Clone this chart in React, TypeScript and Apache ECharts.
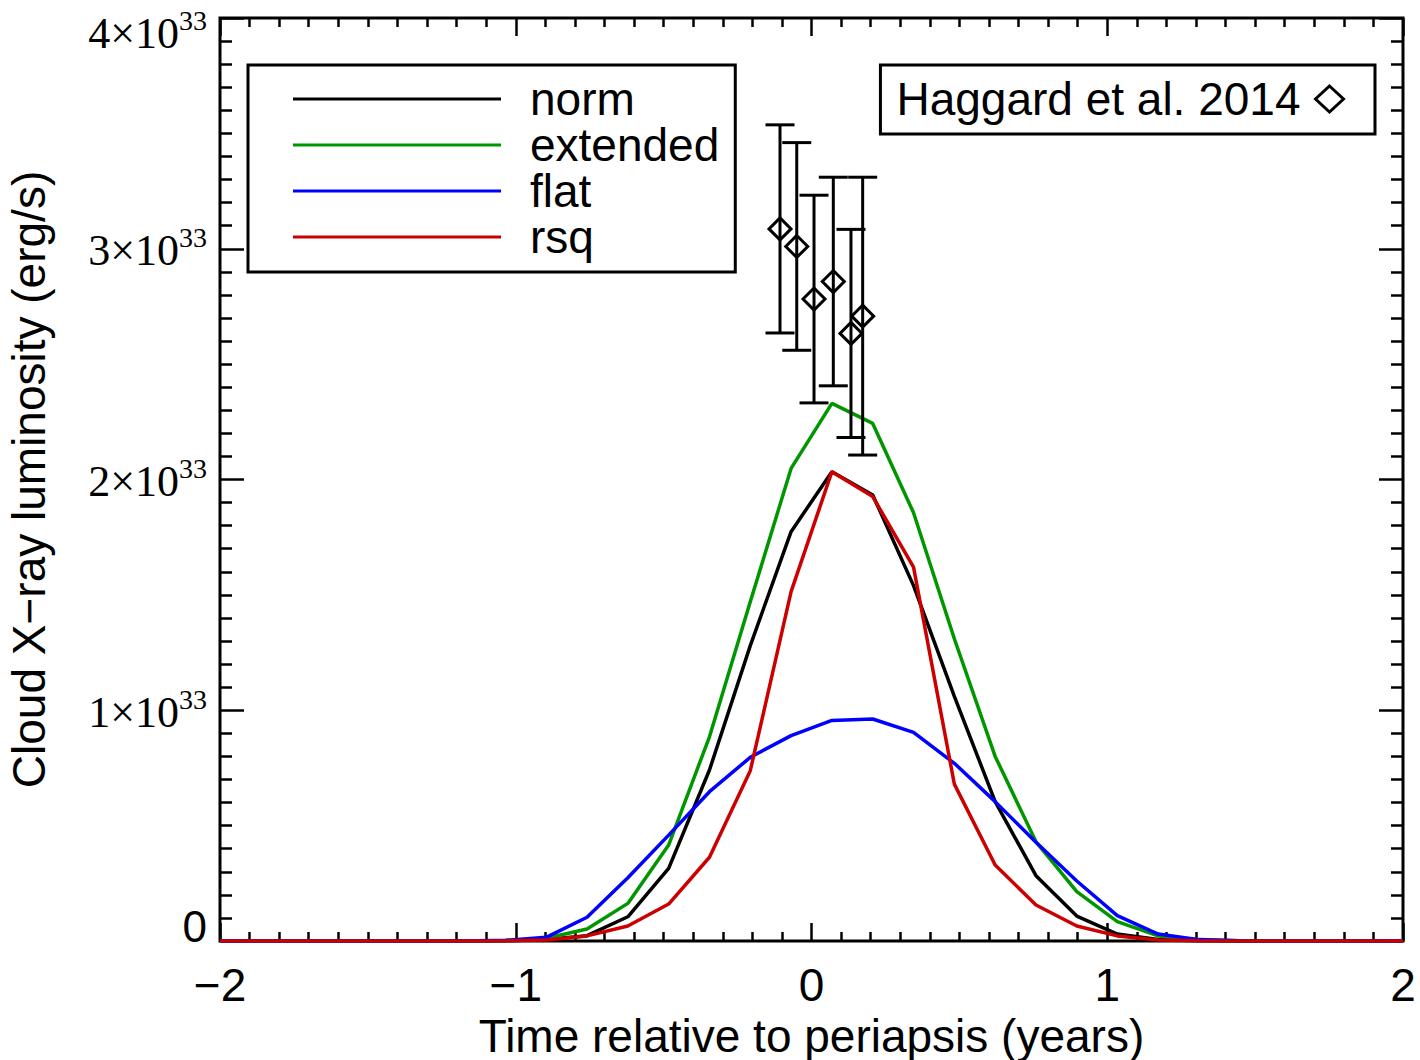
import React, { useEffect, useRef } from "react";
import * as echarts from "echarts";

// Time grid (years relative to periapsis)
const times = [
  -2.0, -1.862, -1.724, -1.586, -1.448, -1.31, -1.172, -1.034, -0.897, -0.759,
  -0.621, -0.483, -0.345, -0.207, -0.069, 0.069, 0.207, 0.345, 0.483, 0.621,
  0.759, 0.897, 1.034, 1.172, 1.31, 1.448, 1.586, 1.724, 1.862, 2.0,
];

// Luminosity in units of 1e33 erg/s
const normLum = [
  0, 0, 0, 0, 0, 0, 0, 0.001, 0.007, 0.023, 0.105, 0.315, 0.741, 1.28, 1.774,
  2.034, 1.933, 1.54, 1.06, 0.604, 0.283, 0.108, 0.03, 0.007, 0.001, 0, 0, 0, 0, 0,
];
const extendedLum = [
  0, 0, 0, 0, 0, 0, 0, 0.002, 0.012, 0.052, 0.163, 0.416, 0.885, 1.47, 2.048,
  2.33, 2.243, 1.856, 1.31, 0.8, 0.43, 0.214, 0.084, 0.022, 0.005, 0.001, 0, 0, 0, 0,
];
const flatLum = [
  0, 0, 0, 0, 0, 0, 0, 0.003, 0.016, 0.103, 0.274, 0.459, 0.647, 0.796, 0.89,
  0.956, 0.962, 0.904, 0.77, 0.604, 0.428, 0.26, 0.11, 0.03, 0.006, 0.001, 0, 0, 0, 0,
];
const rsqLum = [
  0, 0, 0, 0, 0, 0, 0, 0.001, 0.004, 0.022, 0.065, 0.16, 0.363, 0.738, 1.514,
  2.034, 1.926, 1.62, 0.68, 0.329, 0.156, 0.065, 0.022, 0.004, 0.001, 0, 0, 0, 0, 0,
];

// Haggard et al. 2014 observations
const obsTime = [-0.1065, -0.0499, 0.0085, 0.0737, 0.1335, 0.173];
const obsLum = [3.086, 3.01, 2.782, 2.858, 2.633, 2.708];
const obsErr = [0.451, 0.45, 0.45, 0.452, 0.451, 0.602];

const seriesNames = ["norm", "extended", "flat", "rsq"];
const seriesColors = ["#000000", "#009600", "#0000ff", "#cc0000"];
const seriesValues = [normLum, extendedLum, flatLum, rsqLum];
const obsName = "Haggard et al. 2014";

const SANS = "Liberation Sans";
const SERIF = "Liberation Serif";

export default function App() {
  const ref = useRef<HTMLDivElement>(null);

  useEffect(() => {
    document.body.style.margin = "0";
    if (!ref.current) return;
    const chart = echarts.init(ref.current, undefined, { renderer: "svg" });

    const tickCommon = { lineStyle: { color: "#000", width: 2.5 } };
    const noLine = { show: false, onZero: false };

    const option: any = {
      animation: false,
      backgroundColor: "#ffffff",
      grid: {
        left: 220,
        right: 17,
        top: 18,
        bottom: 119,
        containLabel: false,
        outerBoundsMode: "none",
        show: true,
        borderColor: "#000",
        borderWidth: 3,
        backgroundColor: "transparent",
      },
      legend: [
        {
          data: seriesNames.map((n, i) => ({ name: n, icon: "rect", itemStyle: { color: seriesColors[i] } })),
          orient: "vertical",
          left: 248,
          top: 65,
          itemWidth: 208,
          itemHeight: 3,
          itemGap: 0,
          padding: [11, 16, 12, 45],
          borderColor: "#000",
          borderWidth: 3,
          backgroundColor: "#fff",
          selectedMode: false,
          formatter: (n: string) => `{t|${n}}`,
          textStyle: {
            color: "#000",
            fontFamily: SANS,
            fontSize: 46,
            rich: {
              t: {
                fontFamily: SANS,
                fontSize: 46,
                lineHeight: 46,
                color: "#000",
                padding: [0, 0, 0, 24],
              },
            },
          },
        },
        {
          data: [
            {
              name: obsName,
              icon: "diamond",
              itemStyle: { color: "transparent", borderColor: "#000", borderWidth: 3, opacity: 1 },
            },
          ],
          orient: "horizontal",
          right: 45,
          top: 65,
          align: "right",
          itemWidth: 28,
          itemHeight: 26,
          padding: [11, 30, 12, 16],
          borderColor: "#000",
          borderWidth: 3,
          backgroundColor: "#fff",
          selectedMode: false,
          formatter: (n: string) => `{t|${n}}`,
          textStyle: {
            color: "#000",
            fontFamily: SANS,
            fontSize: 46,
            rich: {
              t: {
                fontFamily: SANS,
                fontSize: 46,
                lineHeight: 46,
                color: "#000",
                padding: [0, 10, 0, 0],
              },
            },
          },
        },
      ],
      xAxis: [
        {
          type: "value",
          min: -2,
          max: 2,
          interval: 1,
          position: "bottom",
          axisLine: noLine,
          splitLine: { show: false },
          axisTick: { show: true, inside: true, length: 18, ...tickCommon },
          minorTick: { show: true, splitNumber: 10, length: 9, ...tickCommon },
          axisLabel: {
            color: "#000",
            fontFamily: SANS,
            fontSize: 46,
            margin: 21,
            formatter: (v: number) => (v < 0 ? "\u2212" + Math.abs(v) : String(v)),
          },
          name: "Time relative to periapsis (years)",
          nameLocation: "middle",
          nameGap: 65,
          nameTextStyle: { color: "#000", fontFamily: SANS, fontSize: 46 },
        },
        {
          type: "value",
          min: -2,
          max: 2,
          interval: 1,
          position: "top",
          axisLine: noLine,
          splitLine: { show: false },
          axisTick: { show: true, inside: true, length: 18, ...tickCommon },
          minorTick: { show: true, splitNumber: 10, length: 9, ...tickCommon },
          axisLabel: { show: false },
        },
      ],
      yAxis: [
        {
          type: "value",
          min: 0,
          max: 4,
          interval: 1,
          position: "left",
          axisLine: noLine,
          splitLine: { show: false },
          axisTick: { show: true, inside: true, length: 24, ...tickCommon },
          minorTick: { show: true, splitNumber: 10, length: 12, ...tickCommon },
          axisLabel: {
            color: "#000",
            margin: 13,
            formatter: (v: number) => {
              if (v === 0) return "{z|0}";
              if (v === 4) return `{bt|${v}\u00d710}{st|33}`;
              return `{b|${v}\u00d710}{s|33}`;
            },
            rich: {
              b: { fontFamily: SERIF, fontSize: 44, lineHeight: 44, color: "#000", padding: [4, 0, 0, 0] },
              s: { fontFamily: SERIF, fontSize: 28, lineHeight: 28, color: "#000", padding: [0, 0, 22, 0] },
              bt: { fontFamily: SERIF, fontSize: 44, lineHeight: 44, color: "#000", padding: [30, 0, 0, 0] },
              st: { fontFamily: SERIF, fontSize: 28, lineHeight: 28, color: "#000", padding: [4, 0, 0, 0] },
              z: { fontFamily: SANS, fontSize: 44, lineHeight: 44, color: "#000", padding: [0, 0, 30, 0] },
            },
          },
          name: "Cloud X\u2212ray luminosity (erg/s)",
          nameLocation: "middle",
          nameGap: 168,
          nameTextStyle: { color: "#000", fontFamily: SANS, fontSize: 46 },
        },
        {
          type: "value",
          min: 0,
          max: 4,
          interval: 1,
          position: "right",
          axisLine: noLine,
          splitLine: { show: false },
          axisTick: { show: true, inside: true, length: 24, ...tickCommon },
          minorTick: { show: true, splitNumber: 10, length: 12, ...tickCommon },
          axisLabel: { show: false },
        },
      ],
      series: [
        ...seriesNames.map((name, i) => ({
          name,
          type: "line",
          xAxisIndex: 0,
          yAxisIndex: 0,
          symbol: "none",
          data: times.map((t, k) => [t, seriesValues[i][k]]),
          lineStyle: { color: seriesColors[i], width: 3.5 },
          itemStyle: { color: seriesColors[i] },
          z: 3,
        })),
        {
          name: "errorbars",
          type: "custom",
          xAxisIndex: 0,
          yAxisIndex: 0,
          z: 4,
          encode: { x: 0, y: [1, 2] },
          data: obsTime.map((t, i) => [t, obsLum[i] - obsErr[i], obsLum[i] + obsErr[i]]),
          renderItem: (params: any, api: any) => {
            const x = api.value(0);
            const lo = api.coord([x, api.value(1)]);
            const hi = api.coord([x, api.value(2)]);
            const half = 14.5;
            const style = { stroke: "#000", lineWidth: 3 };
            return {
              type: "group",
              children: [
                { type: "line", shape: { x1: lo[0], y1: lo[1], x2: hi[0], y2: hi[1] }, style },
                { type: "line", shape: { x1: hi[0] - half, y1: hi[1], x2: hi[0] + half, y2: hi[1] }, style },
                { type: "line", shape: { x1: lo[0] - half, y1: lo[1], x2: lo[0] + half, y2: lo[1] }, style },
              ],
            };
          },
        },
        {
          name: obsName,
          type: "scatter",
          xAxisIndex: 0,
          yAxisIndex: 0,
          z: 5,
          symbol: "diamond",
          symbolSize: 22,
          data: obsTime.map((t, i) => [t, obsLum[i]]),
          itemStyle: { color: "transparent", borderColor: "#000", borderWidth: 3, opacity: 1 },
        },
      ],
    };

    chart.setOption(option);
    return () => chart.dispose();
  }, []);

  return <div ref={ref} style={{ width: 1420, height: 1060 }} />;
}
